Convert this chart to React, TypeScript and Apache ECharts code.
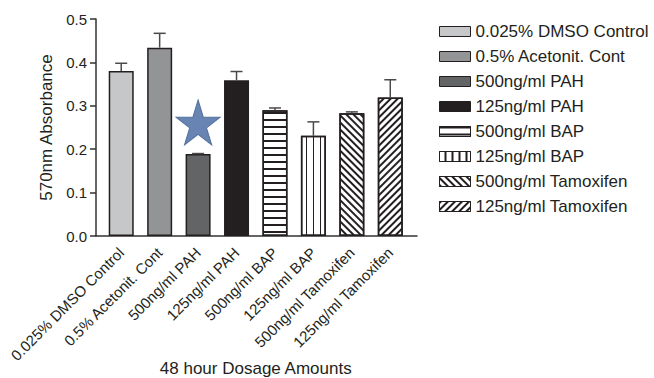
import React, { useEffect, useRef } from "react";
import * as echarts from "echarts";

const categories = [
  "0.025% DMSO Control",
  "0.5% Acetonit. Cont",
  "500ng/ml PAH",
  "125ng/ml PAH",
  "500ng/ml BAP",
  "125ng/ml BAP",
  "500ng/ml Tamoxifen",
  "125ng/ml Tamoxifen",
];
const means = [0.38, 0.434, 0.189, 0.359, 0.29, 0.231, 0.283, 0.319];
const errors = [0.018, 0.033, 0.001, 0.02, 0.005, 0.032, 0.003, 0.041];
const starValue = 0.2615;
const starCategoryIndex = 2;

const INK = "#231f20";
const FONT = "'Liberation Sans', Arial, sans-serif";
const fills = ["#c6c7c9", "#939496", "#636466", "#231f20", "#ffffff", "#ffffff", "#ffffff", "#ffffff"];
const decals: any[] = [
  undefined,
  undefined,
  undefined,
  undefined,
  { symbol: "rect", symbolSize: 1, color: INK, dashArrayX: [1, 0], dashArrayY: [1.5, 4.2], rotation: 0 },
  { symbol: "rect", symbolSize: 1, color: INK, dashArrayX: [1, 0], dashArrayY: [1.5, 5], rotation: Math.PI / 2 },
  { symbol: "rect", symbolSize: 1, color: INK, dashArrayX: [1, 0], dashArrayY: [1.3, 3], rotation: Math.PI / 4 },
  { symbol: "rect", symbolSize: 1, color: INK, dashArrayX: [1, 0], dashArrayY: [1.3, 3], rotation: -Math.PI / 4 },
];
const STAR =
  "path://M50 0 L61.23 34.55 L97.55 34.55 L68.16 55.9 L79.39 90.45 L50 69.1 L20.61 90.45 L31.84 55.9 L2.45 34.55 L38.77 34.55 Z";

export default function App() {
  const ref = useRef<HTMLDivElement>(null);
  useEffect(() => {
    if (!ref.current) return;
    const chart = echarts.init(ref.current, null, { renderer: "svg" });
    const barSeries = categories.map((name, i) => {
      const s: any = {
        type: "bar",
        name,
        xAxisIndex: 0,
        yAxisIndex: 0,
        data: categories.map((_, j) => (j === i ? means[i] : "-")),
        barWidth: 25,
        barGap: "-100%",
        itemStyle: {
          color: fills[i],
          borderColor: INK,
          borderWidth: 1.5,
        },
      };
      if (decals[i]) s.itemStyle.decal = decals[i];
      if (i === starCategoryIndex) {
        s.markPoint = {
          data: [
            {
              coord: [categories[starCategoryIndex], starValue],
              symbol: STAR,
              symbolSize: [44, 45],
              itemStyle: { color: "#6784b2", borderColor: "#54719c", borderWidth: 1 },
              label: { show: false },
            },
          ],
        };
      }
      return s;
    });
    const option: any = {
      animation: false,
      backgroundColor: "#ffffff",
      textStyle: { fontFamily: FONT, color: INK },
      grid: [
        { left: 102, right: 244.5, top: 19, bottom: 142, containLabel: false, outerBoundsMode: "none" },
        { left: 96, right: 237, top: 19, bottom: 142, containLabel: false, outerBoundsMode: "none" },
      ],
      legend: {
        orient: "vertical",
        left: 434,
        top: 18,
        itemWidth: 31,
        itemHeight: 10,
        itemGap: 8,
        icon: "rect",
        data: categories,
        itemStyle: { borderWidth: 1, borderColor: INK },
        textStyle: { fontSize: 17, color: INK, fontFamily: FONT },
      },
      xAxis: [
        {
          type: "category",
          gridIndex: 0,
          data: categories,
          axisLine: { show: false },
          axisTick: { show: false },
          axisLabel: { rotate: 45, interval: 0, fontSize: 15, margin: 14, color: INK, fontFamily: FONT },
          name: "48 hour Dosage Amounts",
          nameLocation: "middle",
          nameGap: 124,
          nameMoveOverlap: false,
          nameTextStyle: { fontSize: 17, color: INK, fontFamily: FONT },
        },
        {
          type: "value",
          gridIndex: 1,
          min: 0,
          max: 1,
          axisLine: { show: true, lineStyle: { color: "#333", width: 1.5 } },
          axisTick: { show: false },
          axisLabel: { show: false },
          splitLine: { show: false },
        },
      ],
      yAxis: [
        {
          type: "value",
          gridIndex: 0,
          min: 0,
          max: 0.5,
          interval: 0.1,
          offset: 6,
          axisLine: { show: true, lineStyle: { color: "#333", width: 1.5 } },
          axisTick: { show: true, length: 6, lineStyle: { color: "#333", width: 1.5 } },
          axisLabel: {
            fontSize: 15,
            margin: 9,
            color: INK,
            fontFamily: FONT,
            formatter: (v: number) => v.toFixed(1),
          },
          splitLine: { show: false },
          name: "570nm Absorbance",
          nameLocation: "middle",
          nameGap: 41,
          nameMoveOverlap: false,
          nameTextStyle: { fontSize: 17, color: INK, fontFamily: FONT },
        },
        { type: "value", gridIndex: 1, show: false, min: 0, max: 1 },
      ],
      series: [
        ...barSeries,
        {
          type: "custom",
          xAxisIndex: 0,
          yAxisIndex: 0,
          z: 3,
          data: categories.map((_, i) => [i, means[i], means[i] + errors[i]]),
          renderItem: (params: any, api: any) => {
            const b = api.coord([api.value(0), api.value(1)]);
            const t = api.coord([api.value(0), api.value(2)]);
            const st = { stroke: "#4a4a4a", lineWidth: 1.5 };
            return {
              type: "group",
              children: [
                { type: "line", shape: { x1: b[0], y1: b[1], x2: t[0], y2: t[1] }, style: st },
                { type: "line", shape: { x1: t[0] - 6, y1: t[1], x2: t[0] + 6, y2: t[1] }, style: st },
              ],
            };
          },
        },
      ],
    };
    chart.setOption(option);
    return () => chart.dispose();
  }, []);
  return (
    <div
      ref={ref}
      style={{ position: "fixed", left: 0, top: 0, width: 654, height: 378, background: "#fff" }}
    />
  );
}
